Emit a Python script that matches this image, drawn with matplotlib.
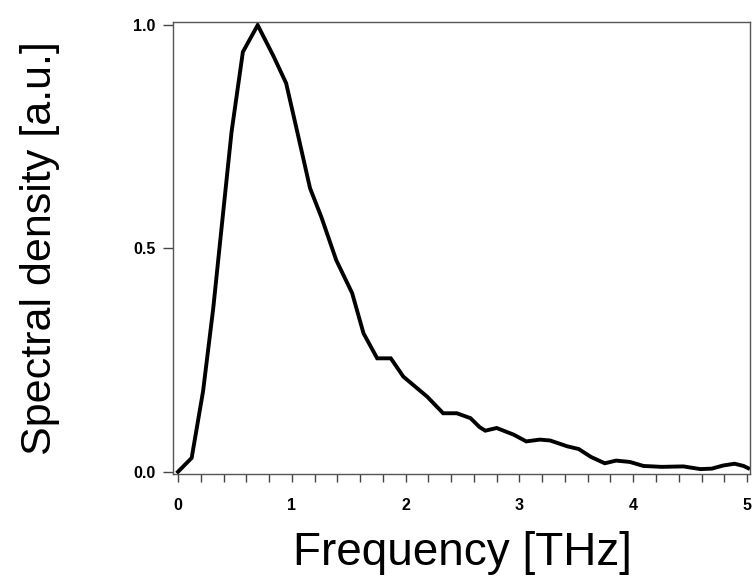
import matplotlib
matplotlib.use("Agg")
import matplotlib.pyplot as plt
from matplotlib.ticker import MultipleLocator, FormatStrFormatter

# Spectrum
freq = [0.0, 0.12, 0.22, 0.31, 0.37, 0.47, 0.57, 0.70, 0.84, 0.95, 1.04,
        1.16, 1.26, 1.39, 1.53, 1.63, 1.75, 1.87, 1.98, 2.19, 2.33, 2.45,
        2.57, 2.65, 2.70, 2.80, 2.95, 3.06, 3.18, 3.27, 3.42, 3.52, 3.63,
        3.75, 3.85, 3.97, 4.09, 4.25, 4.44, 4.59, 4.69, 4.79, 4.89, 4.97, 5.01]
density = [0.0, 0.031, 0.18, 0.367, 0.515, 0.76, 0.94, 1.0, 0.93, 0.87, 0.77,
           0.635, 0.57, 0.474, 0.40, 0.31, 0.254, 0.254, 0.213, 0.168, 0.131, 0.131,
           0.12, 0.10, 0.092, 0.098, 0.083, 0.068, 0.072, 0.070, 0.057, 0.051, 0.033,
           0.019, 0.025, 0.022, 0.013, 0.011, 0.012, 0.006, 0.007, 0.014, 0.018, 0.013, 0.008]

plt.rcParams['font.family'] = ['Liberation Sans', 'DejaVu Sans']

fig = plt.figure(figsize=(7.52, 5.76), dpi=100)
ax = fig.add_axes([173/752, 1 - 474/576, (750 - 173)/752, (474 - 22)/576])

ax.plot(freq, density, color='black', lw=2.8, solid_joinstyle='miter')

ax.set_xlim(-0.044, 5.026)
ax.set_ylim(-0.005, 1.007)

ax.xaxis.set_major_locator(MultipleLocator(1))
ax.xaxis.set_minor_locator(MultipleLocator(0.2))
ax.yaxis.set_major_locator(MultipleLocator(0.5))
ax.yaxis.set_major_formatter(FormatStrFormatter('%.1f'))

for s in ax.spines.values():
    s.set_color('#555555')
    s.set_linewidth(1.0)

ax.tick_params(axis='x', which='both', direction='out', color='#444444', width=1.0,
               length=6, labelsize=11.5, pad=11)
ax.tick_params(axis='y', which='major', direction='out', color='#444444', width=1.0,
               length=7.5, labelsize=11.5, pad=5)
for lbl in ax.get_xticklabels() + ax.get_yticklabels():
    lbl.set_fontweight('bold')

fig.text(462/752, 1 - 565/576, 'Frequency [THz]', fontsize=33,
         ha='center', va='baseline')
fig.text(40/752, 1 - 248/576, 'Spectral density [a.u.]', fontsize=31,
         rotation=90, ha='center', va='center')

fig.savefig('out.png', dpi=100)
